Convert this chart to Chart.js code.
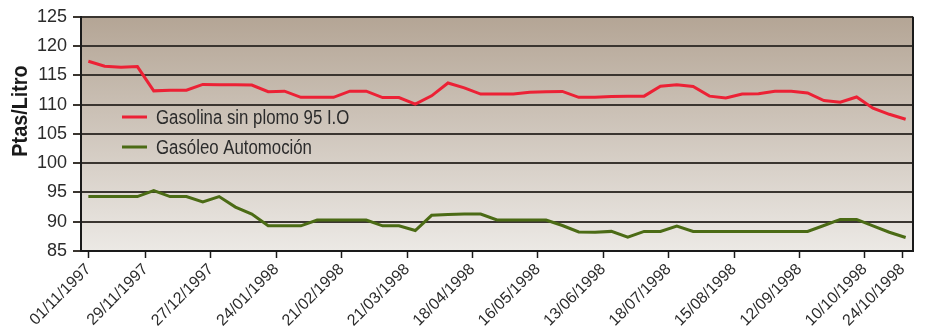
<!DOCTYPE html>
<html>
<head>
<meta charset="utf-8">
<script src="https://cdn.jsdelivr.net/npm/chart.js@4.4.1/dist/chart.umd.min.js"></script>
<style>
    html, body { margin: 0; padding: 0; background: #ffffff; }
    #wrap { width: 928px; height: 333px; }
</style>
</head>
<body>
<div id="wrap"><canvas id="precios" width="928" height="333"></canvas></div>
<script>
// weekly readings, index 0 = 01/11/1997 ... 50 = 24/10/1998
const gasolina = [
    117.4, 116.55, 116.4, 116.5, 112.35, 112.45, 112.45, 113.45, 113.4, 113.4,
    113.35, 112.2, 112.3, 111.25, 111.25, 111.25, 112.3, 112.3, 111.2, 111.2,
    110.1, 111.5, 113.7, 112.85, 111.8, 111.8, 111.8, 112.1, 112.2, 112.25,
    111.25, 111.25, 111.4, 111.45, 111.45, 113.15, 113.4, 113.1, 111.45, 111.15,
    111.8, 111.85, 112.3, 112.3, 112.0, 110.7, 110.4, 111.3, 109.4, 108.35,
    107.5
];
const gasoleo = [
    94.3, 94.3, 94.3, 94.3, 95.3, 94.3, 94.3, 93.4, 94.3, 92.5,
    91.3, 89.3, 89.3, 89.3, 90.3, 90.3, 90.3, 90.3, 89.3, 89.3,
    88.5, 91.1, 91.25, 91.3, 91.3, 90.3, 90.3, 90.3, 90.3, 89.35,
    88.25, 88.2, 88.35, 87.35, 88.35, 88.35, 89.25, 88.35, 88.35, 88.35,
    88.35, 88.35, 88.35, 88.35, 88.35, 89.35, 90.4, 90.4, 89.3, 88.2,
    87.3
];
const tickLabels = [
    '01/11/1997', '29/11/1997', '27/12/1997', '24/01/1998', '21/02/1998',
    '21/03/1998', '18/04/1998', '16/05/1998', '13/06/1998', '18/07/1998',
    '15/08/1998', '12/09/1998', '10/10/1998', '24/10/1998'
];
// where each date label sits along the week index
const tickPositions = [0, 3.5, 7.5, 11.5, 15.5, 19.5, 23.5, 27.5, 31.5, 35.5, 39.5, 43.5, 47.5, 49.8];

const FONT = "'Liberation Sans', Arial, sans-serif";
const TEXT = '#2b2b2b';
const GRID = '#3a3530';

const toPoints = arr => arr.map((v, i) => ({ x: i, y: v }));

const plotBackground = {
    id: 'plotBackground',
    beforeDraw(chart) {
        const { ctx, chartArea: a } = chart;
        const g = ctx.createLinearGradient(0, a.top, 0, a.bottom);
        g.addColorStop(0, '#b4a595');
        g.addColorStop(1, '#ece9e5');
        ctx.save();
        ctx.fillStyle = g;
        ctx.fillRect(a.left, a.top, a.right - a.left, a.bottom - a.top);
        ctx.restore();
    },
    afterDraw(chart) {
        const { ctx, chartArea: a } = chart;
        ctx.save();
        ctx.strokeStyle = '#1a1a1a';
        ctx.lineWidth = 2;
        ctx.beginPath();
        ctx.moveTo(a.right, a.top);
        ctx.lineTo(a.right, a.bottom);
        ctx.stroke();
        // axis title, condensed like the original
        ctx.translate(21, 111);
        ctx.rotate(-Math.PI / 2);
        ctx.scale(0.9, 1);
        ctx.font = "bold 22px " + FONT;
        ctx.fillStyle = '#1a1a1a';
        ctx.textAlign = 'center';
        ctx.textBaseline = 'middle';
        ctx.fillText('Ptas/Litro', 0, 0);
        ctx.restore();
    }
};

const insideLegend = {
    id: 'insideLegend',
    afterDatasetsDraw(chart) {
        const { ctx } = chart;
        chart.data.datasets.forEach((ds, i) => {
            const y = 117 + i * 30;
            ctx.save();
            ctx.strokeStyle = ds.borderColor;
            ctx.lineWidth = 3;
            ctx.beginPath();
            ctx.moveTo(122, y);
            ctx.lineTo(147, y);
            ctx.stroke();
            ctx.translate(156, y + 1);
            ctx.scale(0.84, 1);
            ctx.font = "20px " + FONT;
            ctx.textBaseline = 'middle';
            ctx.fillStyle = TEXT;
            ctx.fillText(ds.label, 0, 0);
            ctx.restore();
        });
    }
};

new Chart(document.getElementById('precios'), {
    type: 'line',
    data: {
        datasets: [
            {
                label: 'Gasolina sin plomo 95 I.O',
                data: toPoints(gasolina),
                borderColor: '#ec2135',
                borderWidth: 3,
                pointRadius: 0,
                tension: 0
            },
            {
                label: 'Gasóleo Automoción',
                data: toPoints(gasoleo),
                borderColor: '#4b6b15',
                borderWidth: 3,
                pointRadius: 0,
                tension: 0
            }
        ]
    },
    options: {
        responsive: false,
        animation: false,
        layout: { padding: { top: 14, right: 15, left: 0, bottom: 0 } },
        plugins: {
            legend: { display: false },
            tooltip: { enabled: false }
        },
        scales: {
            x: {
                type: 'linear',
                min: -0.45,
                max: 50.45,
                afterBuildTicks: scale => {
                    scale.ticks = tickPositions.map(v => ({ value: v }));
                },
                afterFit: scale => { scale.height = 82; },
                grid: {
                    drawOnChartArea: false,
                    drawTicks: true,
                    tickLength: 7,
                    tickColor: '#1a1a1a',
                    tickWidth: 1.5
                },
                border: { color: '#1a1a1a', width: 2 },
                ticks: {
                    autoSkip: false,
                    minRotation: 45,
                    maxRotation: 45,
                    padding: 2,
                    color: TEXT,
                    font: { family: FONT, size: 16 },
                    callback: (value, index) => tickLabels[index]
                }
            },
            y: {
                min: 85,
                max: 125,
                afterFit: scale => { scale.width = 81; },
                grid: {
                    color: GRID,
                    lineWidth: 2,
                    tickLength: 8,
                    tickColor: GRID
                },
                border: { color: '#1a1a1a', width: 2 },
                ticks: {
                    stepSize: 5,
                    padding: 6,
                    color: TEXT,
                    font: { family: FONT, size: 18 }
                }
            }
        }
    },
    plugins: [plotBackground, insideLegend]
});
</script>
</body>
</html>
